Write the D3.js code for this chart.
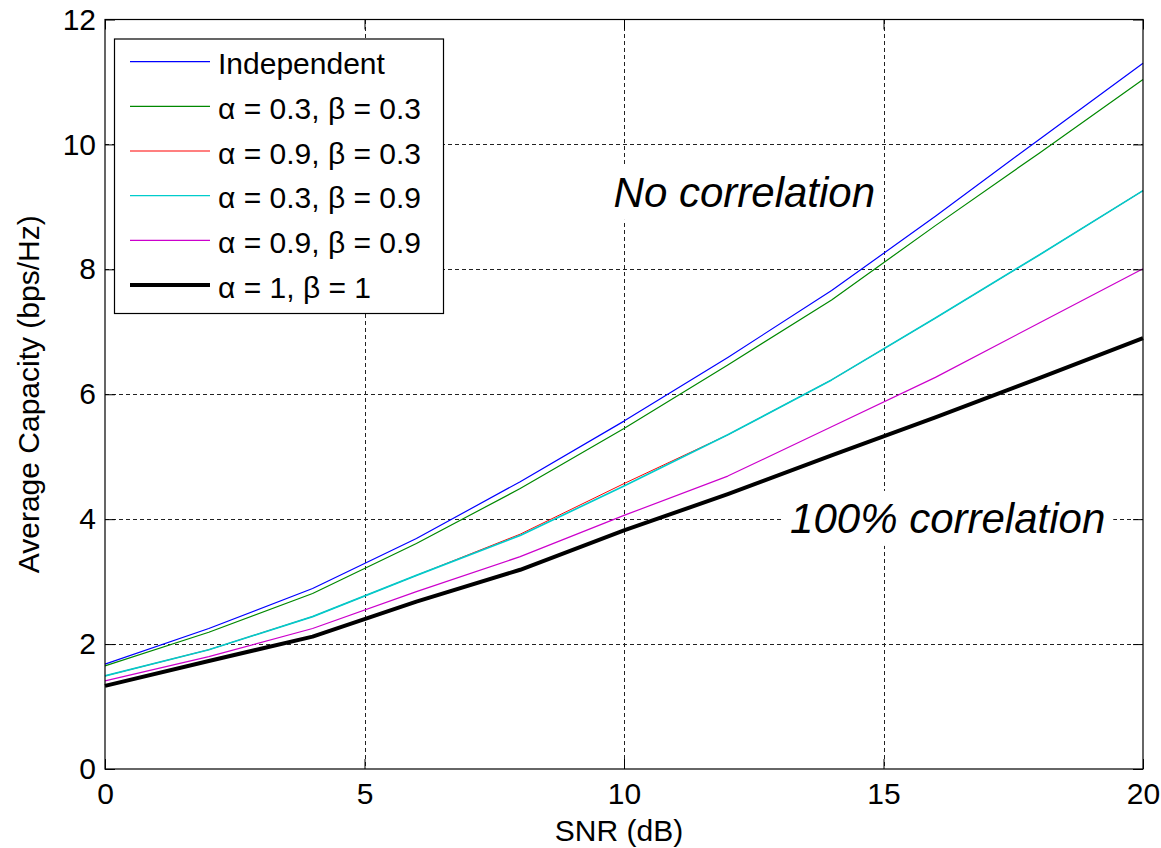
<!DOCTYPE html>
<html>
<head>
<meta charset="utf-8">
<script src="https://cdn.jsdelivr.net/npm/d3@7"></script>
<style>
  html, body { margin: 0; padding: 0; background: #fff; }
  svg { display: block; font-family: "Liberation Sans", Arial, Helvetica, sans-serif; }
</style>
</head>
<body>
<svg id="chart" width="1161" height="848"></svg>
<script>
// ---- data ----
const snr = [0, 2, 4, 6, 8, 10, 12, 14, 16, 18, 20];
const independent = [1.68, 2.25, 2.89, 3.69, 4.60, 5.57, 6.59, 7.66, 8.85, 10.08, 11.30];
const a03b03      = [1.65, 2.19, 2.81, 3.61, 4.49, 5.45, 6.47, 7.51, 8.70, 9.86, 11.04];
const a09b03      = [1.49, 1.91, 2.44, 3.10, 3.76, 4.57, 5.35, 6.23, 7.22, 8.23, 9.26];
const a03b09      = [1.49, 1.91, 2.44, 3.10, 3.74, 4.53, 5.35, 6.23, 7.22, 8.23, 9.26];
const a09b09      = [1.41, 1.80, 2.25, 2.84, 3.40, 4.06, 4.69, 5.48, 6.27, 7.14, 8.01];
const a1b1        = [1.33, 1.73, 2.12, 2.68, 3.19, 3.82, 4.40, 5.02, 5.63, 6.26, 6.90];

const seriesNames = ["Independent", "\u03B1 = 0.3, \u03B2 = 0.3", "\u03B1 = 0.9, \u03B2 = 0.3",
                     "\u03B1 = 0.3, \u03B2 = 0.9", "\u03B1 = 0.9, \u03B2 = 0.9", "\u03B1 = 1, \u03B2 = 1"];
const seriesValues = [independent, a03b03, a09b03, a03b09, a09b09, a1b1];
const seriesColors = ["#0000ff", "#008800", "#ff0000", "#00cccc", "#cc00cc", "#000000"];
const seriesWidths = [1.2, 1.2, 1.0, 1.7, 1.2, 4];
const legendWidths = [1.2, 1.2, 1.2, 1.2, 1.2, 4];

const xTicks = [0, 5, 10, 15, 20];
const yTicks = [0, 2, 4, 6, 8, 10, 12];
const xLabel = "SNR (dB)";
const yLabel = "Average Capacity (bps/Hz)";
const annotations = [
  { text: "No correlation", x: 9.8, y: 9.0 },
  { text: "100% correlation", x: 13.2, y: 3.78 }
];

// ---- layout ----
const svg = d3.select("#chart");
const L = 105, R = 1143, T = 19.5, B = 769;
const x = d3.scaleLinear().domain([0, 20]).range([L, R]);
const y = d3.scaleLinear().domain([0, 12]).range([B, T]);

svg.append("rect").attr("width", 1161).attr("height", 848).attr("fill", "#fff");

// grid
const grid = svg.append("g").attr("stroke", "#222").attr("stroke-width", 1)
  .attr("stroke-dasharray", "4,3").attr("shape-rendering", "crispEdges");
grid.selectAll("line.gx").data(xTicks.filter(d => d > 0 && d < 20)).join("line")
  .attr("x1", d => Math.round(x(d)) + 0.5).attr("x2", d => Math.round(x(d)) + 0.5)
  .attr("y1", T).attr("y2", B);
grid.selectAll("line.gy").data(yTicks.filter(d => d > 0 && d < 12)).join("line")
  .attr("y1", d => Math.round(y(d)) + 0.5).attr("y2", d => Math.round(y(d)) + 0.5)
  .attr("x1", L).attr("x2", R);

// series lines
const line = d3.line().x((d, i) => x(snr[i])).y(d => y(d));
seriesValues.forEach((vals, k) => {
  svg.append("path").datum(vals)
    .attr("fill", "none").attr("stroke", seriesColors[k])
    .attr("stroke-width", seriesWidths[k]).attr("stroke-linejoin", "round")
    .attr("d", line);
});

// axes
const fontSize = 30;
const axB = svg.append("g").attr("transform", `translate(0,${B})`)
  .call(d3.axisBottom(x).tickValues(xTicks).tickSize(-10).tickPadding(14).tickFormat(d3.format("d")));
const axL = svg.append("g").attr("transform", `translate(${L},0)`)
  .call(d3.axisLeft(y).tickValues(yTicks).tickSize(-10).tickPadding(9).tickFormat(d3.format("d")));
const axT = svg.append("g").attr("transform", `translate(0,${T})`)
  .call(d3.axisTop(x).tickValues(xTicks).tickSize(-10).tickFormat(""));
const axR = svg.append("g").attr("transform", `translate(${R},0)`)
  .call(d3.axisRight(y).tickValues(yTicks).tickSize(-10).tickFormat(""));
[axB, axL, axT, axR].forEach(g => {
  g.select(".domain").remove();
  g.selectAll(".tick line").attr("stroke", "#000").attr("stroke-width", 1);
  g.selectAll("text").attr("font-size", fontSize).attr("fill", "#000")
    .attr("font-family", "'Liberation Sans', Arial, sans-serif");
});

// box
svg.append("rect").attr("x", L).attr("y", T).attr("width", R - L).attr("height", B - T)
  .attr("fill", "none").attr("stroke", "#000").attr("stroke-width", 1.2);

// axis labels
svg.append("text").attr("x", (L + R) / 2 - 5).attr("y", 841).attr("text-anchor", "middle")
  .attr("font-size", fontSize).text(xLabel);
svg.append("text").attr("transform", `translate(39,${(T + B) / 2}) rotate(-90)`)
  .attr("text-anchor", "middle").attr("font-size", fontSize).text(yLabel);

// annotations with white background
annotations.forEach(a => {
  const g = svg.append("g");
  const t = g.append("text").attr("x", x(a.x)).attr("y", y(a.y))
    .attr("font-size", 42).attr("font-style", "italic").text(a.text);
  const bb = t.node().getBBox();
  g.insert("rect", "text").attr("x", bb.x - 8).attr("y", bb.y - 4)
    .attr("width", bb.width + 16).attr("height", bb.height + 8).attr("fill", "#fff");
});

// legend
const lg = svg.append("g");
lg.append("rect").attr("x", 114.5).attr("y", 39).attr("width", 329).attr("height", 274.5)
  .attr("fill", "#fff").attr("stroke", "#000").attr("stroke-width", 1.2);
seriesNames.forEach((name, k) => {
  const ly = 61.7 + k * 44.66;
  lg.append("line").attr("x1", 130).attr("x2", 210).attr("y1", ly).attr("y2", ly)
    .attr("stroke", seriesColors[k]).attr("stroke-width", legendWidths[k]);
  lg.append("text").attr("x", 218).attr("y", ly + 12.5).attr("font-size", fontSize).text(name);
});
</script>
</body>
</html>
